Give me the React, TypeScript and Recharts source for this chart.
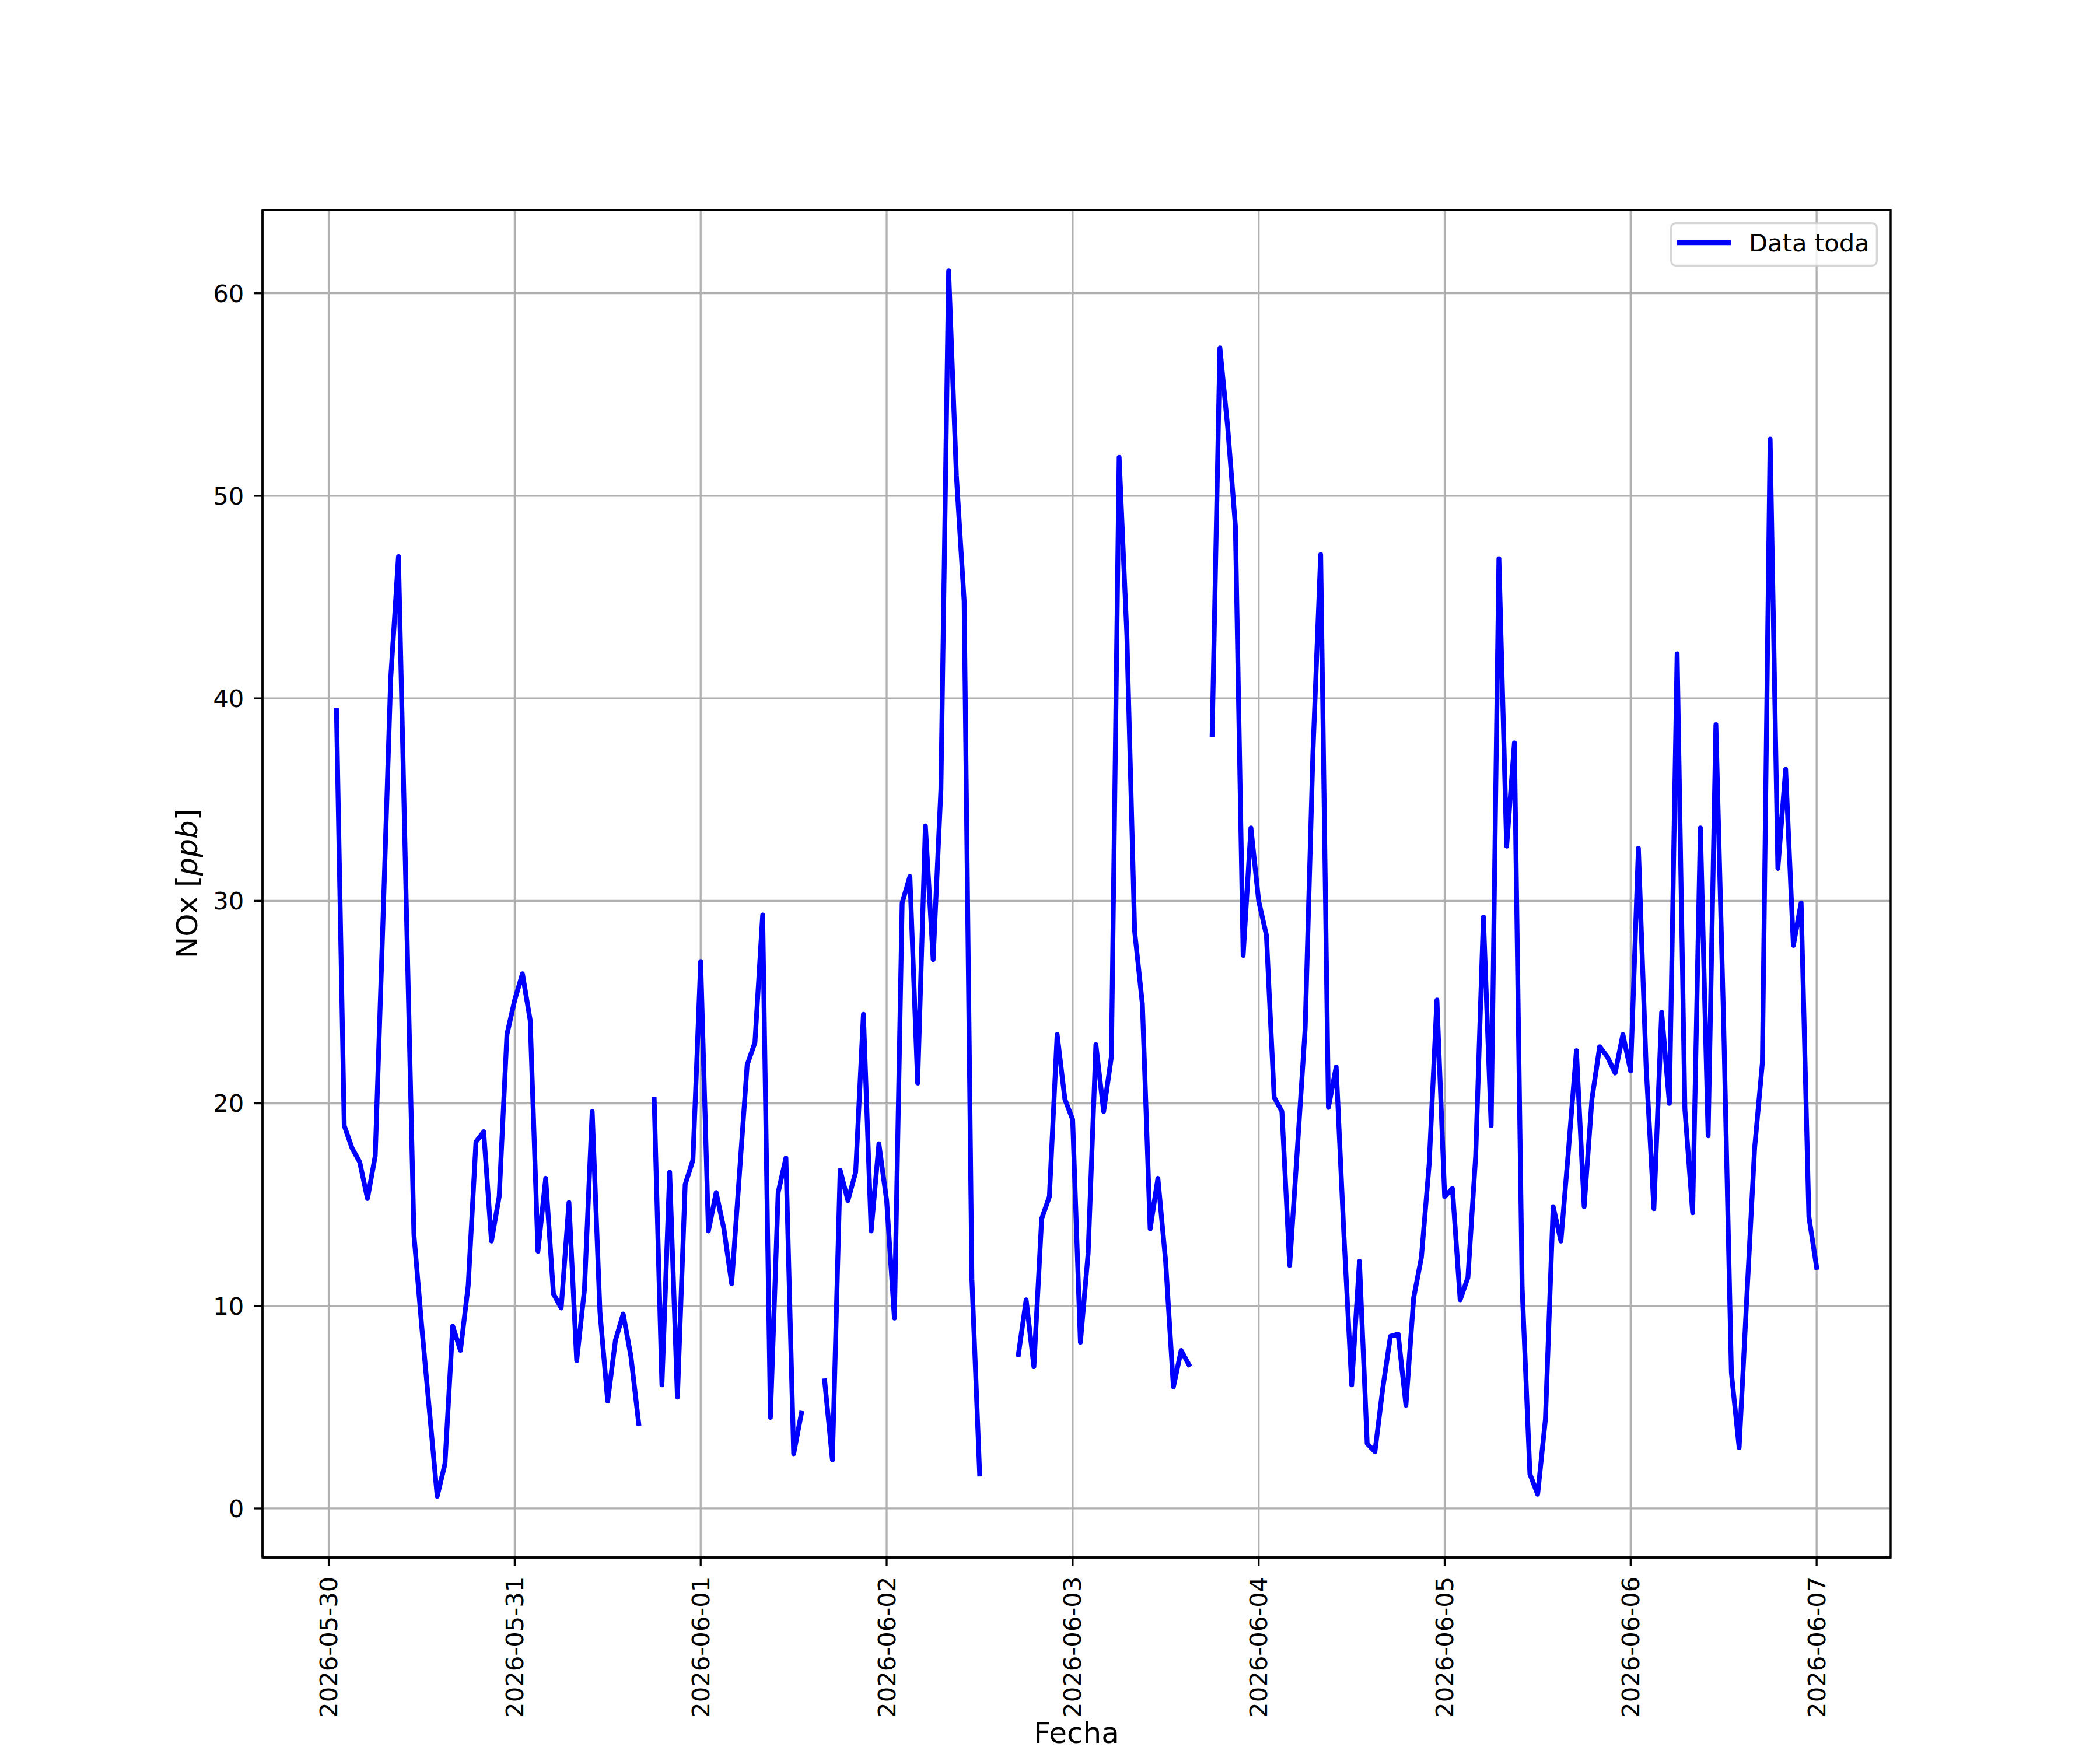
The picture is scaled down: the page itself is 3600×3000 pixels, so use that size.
import {
  CartesianGrid,
  Label,
  Legend,
  Line,
  LineChart,
  ReferenceArea,
  XAxis,
  YAxis,
} from "recharts";
import { JSX } from "react";

// hourly NOx [ppb], one array per day, starting 2026-05-30 00:00
const day0 = [null, 39.4, 18.9, 17.8, 17.1, 15.3, 17.4, 29.0, 41.0, 47.0, 30.0, 13.5, 9.0, 4.8, 0.6, 2.2, 9.0, 7.8, 11.0, 18.1, 18.6, 13.2, 15.4, 23.4];
const day1 = [25.1, 26.4, 24.1, 12.7, 16.3, 10.6, 9.9, 15.1, 7.3, 10.8, 19.6, 9.7, 5.3, 8.3, 9.6, 7.5, 4.2, null, 20.2, 6.1, 16.6, 5.5, 16.0, 17.2];
const day2 = [27.0, 13.7, 15.6, 13.8, 11.1, 16.5, 21.9, 23.0, 29.3, 4.5, 15.6, 17.3, 2.7, 4.7, null, null, 6.3, 2.4, 16.7, 15.2, 16.6, 24.4, 13.7, 18.0];
const day3 = [15.2, 9.4, 29.9, 31.2, 21.0, 33.7, 27.1, 35.5, 61.1, 51.0, 44.8, 11.3, 1.7, null, null, null, null, 7.6, 10.3, 7.0, 14.3, 15.4, 23.4, 20.2];
const day4 = [19.2, 8.2, 12.6, 22.9, 19.6, 22.3, 51.9, 43.1, 28.5, 24.9, 13.8, 16.3, 12.2, 6.0, 7.8, 7.1, null, null, 38.2, 57.3, 53.4, 48.5, 27.3, 33.6];
const day5 = [30.0, 28.3, 20.3, 19.6, 12.0, 17.8, 23.7, 37.3, 47.1, 19.8, 21.8, 13.5, 6.1, 12.2, 3.2, 2.8, 5.9, 8.5, 8.6, 5.1, 10.4, 12.4, 17.0, 25.1];
const day6 = [15.4, 15.8, 10.3, 11.4, 17.4, 29.2, 18.9, 46.9, 32.7, 37.8, 10.9, 1.7, 0.7, 4.4, 14.9, 13.2, 17.8, 22.6, 14.9, 20.2, 22.8, 22.3, 21.5, 23.4];
const day7 = [21.6, 32.6, 21.8, 14.8, 24.5, 20.0, 42.2, 19.7, 14.6, 33.6, 18.4, 38.7, 24.0, 6.7, 3.0, 10.5, 17.8, 22.0, 52.8, 31.6, 36.5, 27.8, 29.9, 14.4, 11.9];

const dateLabels = ["2026-05-30", "2026-05-31", "2026-06-01", "2026-06-02", "2026-06-03", "2026-06-04", "2026-06-05", "2026-06-06", "2026-06-07"];
const dateTicks = [0, 24, 48, 72, 96, 120, 144, 168, 192];
const yTicks = [0, 10, 20, 30, 40, 50, 60];

const values = [...day0, ...day1, ...day2, ...day3, ...day4, ...day5, ...day6, ...day7];
const data = values.map((v, h) => ({ h, v }));

const FONT = "DejaVu Sans";
const X_DOMAIN = [-8.55, 201.55];
const Y_DOMAIN = [-2.42, 64.11];

const XTick = ({ x, y, payload }): JSX.Element => (
  <text
    x={x}
    y={y}
    dy="0.35em"
    transform={`rotate(-90, ${x}, ${y})`}
    textAnchor="end"
    fontFamily={FONT}
    fontSize={41.7}
    fill="#000"
  >
    {dateLabels[dateTicks.indexOf(payload.value)]}
  </text>
);

const YLabel = ({ viewBox }): JSX.Element => {
  const x = viewBox.x + 338;
  const y = viewBox.y + viewBox.height / 2;
  return (
    <text x={x} y={y} transform={`rotate(-90, ${x}, ${y})`} textAnchor="middle" fontFamily={FONT} fontSize={50} fill="#000">
      NOx [<tspan fontStyle="italic">ppb</tspan>]
    </text>
  );
};

// kept just inside the bottom edge
const XLabel = ({ viewBox }): JSX.Element => (
  <text x={viewBox.x + viewBox.width / 2} y={viewBox.y + 318} textAnchor="middle" fontFamily={FONT} fontSize={50} fill="#000">
    Fecha
  </text>
);

const LegendBox = ({ payload }): JSX.Element => (
  <svg width={356} height={76} style={{ display: "block" }}>
    <rect x={1.65} y={1.65} width={352.7} height={72.7} rx={8} ry={8} fill="rgba(255,255,255,0.8)" stroke="rgba(204,204,204,0.8)" strokeWidth={3.3} />
    {(payload || []).map((item) => (
      <g key={item.value}>
        <line x1={12} x2={104} y1={35} y2={35} stroke={item.color} strokeWidth={8.3} strokeLinecap="butt" />
        <text x={135} y={50} fontFamily={FONT} fontSize={41.7} fill="#000">
          {item.value}
        </text>
      </g>
    ))}
  </svg>
);

export default function App(): JSX.Element {
  return (
    <div style={{ position: "absolute", left: 0, top: 0, width: 3600, height: 3000, background: "#fff" }}>
      <LineChart width={3600} height={3000} data={data} margin={{ top: 360, right: 359, bottom: 0, left: 0 }}>
        <CartesianGrid stroke="#b0b0b0" strokeWidth={3.3} />
        <XAxis
          dataKey="h"
          type="number"
          domain={X_DOMAIN}
          allowDataOverflow
          ticks={dateTicks}
          interval={0}
          height={330}
          tickSize={14.6}
          tickMargin={18}
          tickLine={{ stroke: "#000", strokeWidth: 3.3 }}
          axisLine={{ stroke: "#000", strokeWidth: 3.3 }}
          tick={XTick}
        >
          <Label content={XLabel} />
        </XAxis>
        <YAxis
          type="number"
          domain={Y_DOMAIN}
          allowDataOverflow
          ticks={yTicks}
          interval={0}
          width={450}
          tickSize={14.6}
          tickMargin={17}
          tickLine={{ stroke: "#000", strokeWidth: 3.3 }}
          axisLine={{ stroke: "#000", strokeWidth: 3.3 }}
          tick={{ fill: "#000", fontSize: 41.7, fontFamily: FONT }}
        >
          <Label content={YLabel} />
        </YAxis>
        <Line
          dataKey="v"
          name="Data toda"
          type="linear"
          stroke="#0000ff"
          strokeWidth={8.3}
          strokeLinejoin="round"
          strokeLinecap="square"
          dot={false}
          activeDot={false}
          connectNulls={false}
          isAnimationActive={false}
        />
        <ReferenceArea
          x1={X_DOMAIN[0]}
          x2={X_DOMAIN[1]}
          y1={Y_DOMAIN[0]}
          y2={Y_DOMAIN[1]}
          ifOverflow="visible"
          fill="none"
          stroke="#000"
          strokeWidth={3.3}
        />
        {/* middle/center so the legend reserves no room from the plot */}
        <Legend
          layout="horizontal"
          verticalAlign="middle"
          align="center"
          content={LegendBox}
          wrapperStyle={{ position: "absolute", left: 2863, top: 381, right: "auto", bottom: "auto", width: 356, height: 76 }}
        />
      </LineChart>
    </div>
  );
}
